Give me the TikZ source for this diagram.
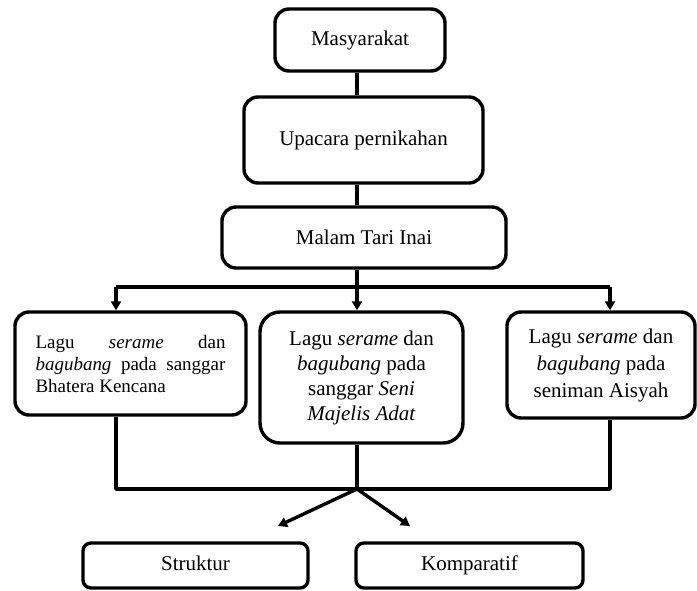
\documentclass[tikz,border=0pt]{standalone}
\usepackage{fontspec}
\setmainfont{Liberation Serif}
\usetikzlibrary{arrows.meta}
\begin{document}
\begin{tikzpicture}[x=1pt,y=-1pt,
    kotak/.style={draw,line width=3.4pt,rounded corners=14pt,inner sep=0pt,
        font=\fontsize{21}{27}\selectfont},
    garis/.style={line width=3.4pt,line join=round},
    panah/.style={line width=3.4pt,-{Triangle[length=9pt,width=10pt]}}]
    \useasboundingbox (0,0) rectangle (697,590);

    \node[kotak,minimum width=170pt,minimum height=62pt] (mas) at (360,40) {Masyarakat};

    \node[kotak,minimum width=239pt,minimum height=86pt] (upa) at (363.5,140) {Upacara pernikahan};

    \node[kotak,minimum width=284pt,minimum height=61pt] (mal) at (364,237.5) {Malam Tari Inai};

    \node[kotak,minimum width=231pt,minimum height=103pt,text width=190pt,align=justify,
        font=\fontsize{19}{22}\selectfont] (lagu1) at (130.5,363.5)
        {Lagu\hfill\textit{serame}\hfill dan\\
        \textit{bagubang}\hfill pada\hfill sanggar\\
        Bhatera Kencana};

    \node[kotak,rounded corners=20pt,minimum width=203pt,minimum height=131pt,align=center,
        font=\fontsize{21}{25}\selectfont] (lagu2) at (361.5,377.5)
        {Lagu \textit{serame} dan\\
        \textit{bagubang} pada\\
        sanggar \textit{Seni}\\
        \textit{Majelis Adat}};

    \node[kotak,minimum width=188pt,minimum height=106pt,align=center] (lagu3) at (601,365)
        {Lagu \textit{serame} dan\\
        \textit{bagubang} pada\\
        seniman Aisyah};

    \node[kotak,rounded corners=8pt,minimum width=225pt,minimum height=45pt,
        text height=14pt,text depth=5pt] (struk) at (195.5,565.5) {Struktur};

    \node[kotak,rounded corners=8pt,minimum width=227pt,minimum height=45pt,
        text height=14pt,text depth=5pt] (komp) at (469.5,565.5) {Komparatif};

    \coordinate (cabang) at (357,287);
    \coordinate (kiri) at (116,287);
    \coordinate (kanan) at (610,287);
    \coordinate (gabung) at (357,489);
    \coordinate (ujungA) at (278,526);
    \coordinate (ujungB) at (410,526);

    \draw[garis] (mas.south -| cabang) -- (upa.north -| cabang);
    \draw[garis] (upa.south -| cabang) -- (mal.north -| cabang);
    \draw[garis] (mal.south -| cabang) -- (cabang);
    \draw[garis] (kiri) -- (kanan);

    \draw[panah] (kiri) -- (kiri |- lagu1.north);
    \draw[panah] (cabang) -- (cabang |- lagu2.north);
    \draw[panah] (kanan) -- (kanan |- lagu3.north);

    \draw[garis] (kiri |- lagu1.south) |- (gabung) -| (kanan |- lagu3.south);
    \draw[garis] (lagu2.south -| gabung) -- (gabung);

    \draw[panah] (gabung) -- (ujungA);
    \draw[panah] (gabung) -- (ujungB);
\end{tikzpicture}
\end{document}
